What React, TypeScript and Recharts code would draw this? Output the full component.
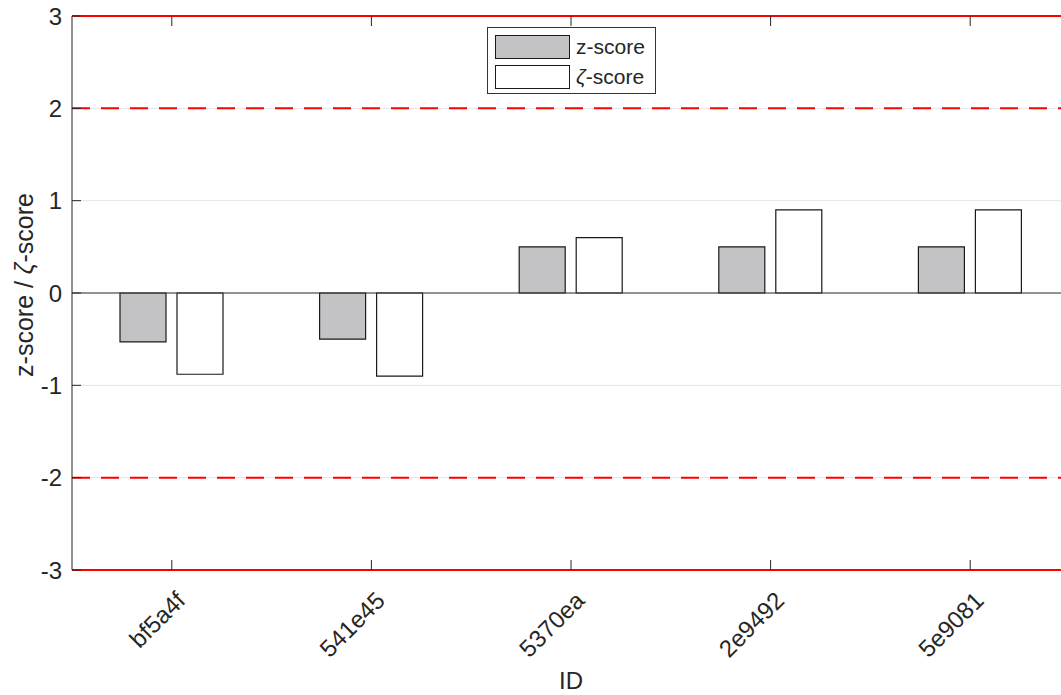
import { BarChart, Bar, XAxis, YAxis, CartesianGrid, ReferenceLine, Legend, Label } from 'recharts';

const categories = ['bf5a4f', '541e45', '5370ea', '2e9492', '5e9081'];
const zScores = [-0.53, -0.5, 0.5, 0.5, 0.5];
const zetaScores = [-0.88, -0.9, 0.6, 0.9, 0.9];
const yTicks = [-3, -2, -1, 0, 1, 2, 3];
const solidLimits = [-3, 3];
const dashedLimits = [-2, 2];

const FONT = '"Liberation Sans", Arial, Helvetica, sans-serif';
const INK = '#262626';
const GRAY = '#c3c3c5';

const CHART_W = 1080;
const CHART_H = 695;
const MARGIN = { top: 16, right: 10, bottom: 0, left: 0 };
const X_AXIS_H = 125;
const PLOT_BOTTOM = CHART_H - MARGIN.bottom - X_AXIS_H;

const data = categories.map((id, i) => ({ id, z: zScores[i], zeta: zetaScores[i] }));

// bottom labels plus the inward tick marks on both the bottom and top box edges
function CategoryTick({ x, payload }: any) {
  const tx = x + 15;
  const ty = PLOT_BOTTOM + 32;
  return (
    <g>
      <line x1={x} y1={PLOT_BOTTOM} x2={x} y2={PLOT_BOTTOM - 10} stroke={INK} strokeWidth={1} />
      <line x1={x} y1={MARGIN.top} x2={x} y2={MARGIN.top + 10} stroke={INK} strokeWidth={1} />
      <text
        x={tx}
        y={ty}
        transform={`rotate(-45, ${tx}, ${ty})`}
        textAnchor="end"
        fontFamily={FONT}
        fontSize={24}
        fill={INK}
      >
        {payload.value}
      </text>
    </g>
  );
}

function LeftTick({ x, y, payload }: any) {
  return (
    <g>
      <line x1={x} y1={y} x2={x + 9} y2={y} stroke={INK} strokeWidth={1} />
      <text x={x - 10} y={y} dy="0.36em" textAnchor="end" fontFamily={FONT} fontSize={24} fill={INK}>
        {payload.value}
      </text>
    </g>
  );
}

function RightTick({ x, y }: any) {
  return <line x1={x} y1={y} x2={x - 9} y2={y} stroke={INK} strokeWidth={1} />;
}

function LegendBox() {
  const row = (fill: string, label: any, top: number) => (
    <div style={{ position: 'absolute', left: 7, top, display: 'flex', alignItems: 'center' }}>
      <div style={{ width: 73, height: 22, background: fill, border: '1px solid #1a1a1a' }} />
      <span style={{ marginLeft: 6, fontFamily: FONT, fontSize: 21, color: INK, lineHeight: '24px' }}>{label}</span>
    </div>
  );
  return (
    <div
      style={{
        position: 'relative',
        width: 167,
        height: 65,
        background: '#fff',
        border: '1px solid #333',
      }}
    >
      {row(GRAY, 'z-score', 7)}
      {row('#fff', <><i>ζ</i>-score</>, 37)}
    </div>
  );
}

export default function App() {
  return (
    <div style={{ position: 'absolute', left: 0, top: 0, width: 1061, height: 695, overflow: 'hidden', background: '#fff' }}>
      <BarChart
        width={CHART_W}
        height={CHART_H}
        data={data}
        margin={MARGIN}
        barSize={46}
        barGap={11}
      >
        <CartesianGrid horizontal vertical={false} stroke="#e5e5e5" strokeWidth={1} />
        <XAxis
          dataKey="id"
          height={X_AXIS_H}
          interval={0}
          tickSize={0}
          tickMargin={0}
          tickLine={false}
          axisLine={false}
          tick={<CategoryTick />}
        >
          <Label
            content={({ viewBox }: any) => (
              <text
                x={viewBox.x + viewBox.width / 2}
                y={PLOT_BOTTOM + 119}
                textAnchor="middle"
                fontFamily={FONT}
                fontSize={24}
                fill={INK}
              >
                ID
              </text>
            )}
          />
        </XAxis>
        <YAxis
          width={72}
          domain={[-3, 3]}
          ticks={yTicks}
          interval={0}
          tickSize={0}
          tickMargin={0}
          tickLine={false}
          axisLine={{ stroke: INK, strokeWidth: 1 }}
          tick={<LeftTick />}
        >
          <Label
            content={({ viewBox }: any) => {
              const cy = viewBox.y + viewBox.height / 2 - 8;
              return (
                <text
                  x={24}
                  y={cy}
                  transform={`rotate(-90, 24, ${cy})`}
                  textAnchor="middle"
                  dominantBaseline="central"
                  fontFamily={FONT}
                  fontSize={25}
                  fill={INK}
                >
                  z-score / <tspan fontStyle="italic">ζ</tspan>-score
                </text>
              );
            }}
          />
        </YAxis>
        <YAxis
          yAxisId="r"
          orientation="right"
          width={0}
          domain={[-3, 3]}
          ticks={yTicks}
          interval={0}
          tickSize={0}
          tickMargin={0}
          tickLine={false}
          axisLine={{ stroke: INK, strokeWidth: 1 }}
          tick={<RightTick />}
        />
        <Legend
          layout="vertical"
          align="center"
          verticalAlign="middle"
          wrapperStyle={{ position: 'absolute', left: 487, top: 27, width: 169, height: 67 }}
          content={() => <LegendBox />}
        />
        <ReferenceLine y={0} stroke="#333333" strokeWidth={1} />
        <Bar dataKey="z" name="z-score" fill={GRAY} stroke="#1a1a1a" strokeWidth={1.2} isAnimationActive={false} />
        <Bar dataKey="zeta" name="ζ-score" fill="#ffffff" stroke="#1a1a1a" strokeWidth={1.2} isAnimationActive={false} />
        {dashedLimits.map((v) => (
          <ReferenceLine key={`d${v}`} y={v} stroke="#ff0000" strokeWidth={2} strokeDasharray="18 11" />
        ))}
        {solidLimits.map((v) => (
          <ReferenceLine key={`s${v}`} y={v} stroke="#ff0000" strokeWidth={2} />
        ))}
      </BarChart>
    </div>
  );
}
